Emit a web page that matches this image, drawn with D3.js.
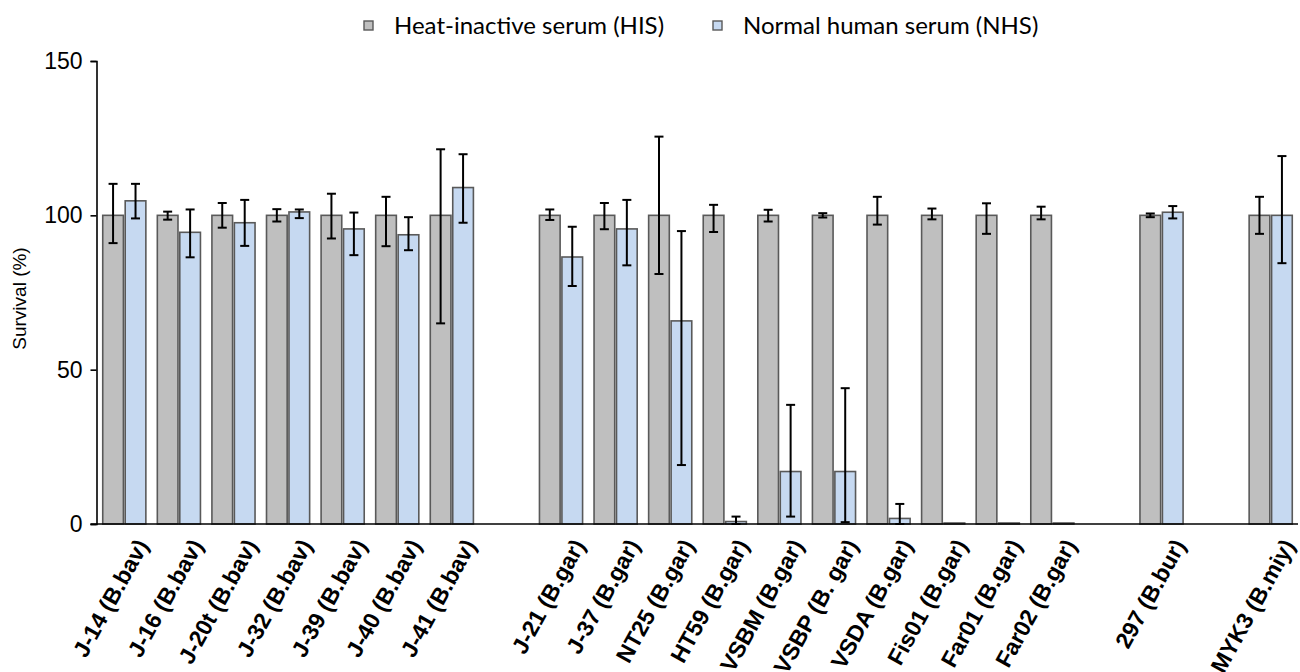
<!DOCTYPE html>
<html>
<head>
<meta charset="utf-8">
<script src="https://cdn.jsdelivr.net/npm/d3@7"></script>
<style>
  body { margin: 0; background: #fff; }
  svg { display: block; }
</style>
</head>
<body>
<svg id="chart"></svg>
<script>
// strain labels; "" = empty slot between species groups
const labels = ["J-14 (B.bav)", "J-16 (B.bav)", "J-20t (B.bav)", "J-32 (B.bav)", "J-39 (B.bav)",
  "J-40 (B.bav)", "J-41 (B.bav)", "", "J-21 (B.gar)", "J-37 (B.gar)", "NT25 (B.gar)",
  "HT59 (B.gar)", "VSBM (B.gar)", "VSBP (B. gar)", "VSDA (B.gar)", "Fis01 (B.gar)",
  "Far01 (B.gar)", "Far02 (B.gar)", "", "297 (B.bur)", "", "MYK3 (B.miy)"];

const series = ["Heat-inactive serum (HIS)", "Normal human serum (NHS)"];

// heat-inactive serum
const hisValues = [100, 100, 100, 100, 100, 100, 100, null, 100, 100, 100, 100, 100, 100, 100, 100, 100, 100, null, 100, null, 100];
const hisLow    = [91, 98.6, 96, 98, 92.5, 90, 65, null, 98.5, 95.5, 81, 94.6, 98, 99.3, 97, 98.7, 94, 98.7, null, 99.4, null, 94];
const hisHigh   = [110.2, 101.2, 104, 102, 107, 106, 121.4, null, 101.9, 104, 125.5, 103.4, 101.8, 100.7, 106, 102.2, 103.9, 102.8, null, 100.6, null, 106];

// normal human serum
const nhsValues = [104.7, 94.5, 97.6, 101.1, 95.6, 93.7, 109, null, 86.5, 95.6, 65.8, 0.8, 17, 17, 1.8, 0, 0, 0, null, 101, null, 100];
const nhsLow    = [99, 86.4, 90.1, 99.1, 87.1, 88.7, 97.6, null, 77.1, 83.8, 19.1, 0, 2.4, 0.6, 0, 0, 0, 0, null, 99, null, 84.5];
const nhsHigh   = [110.2, 101.9, 105, 101.9, 100.9, 99.4, 119.8, null, 96.3, 105, 94.9, 2.4, 38.6, 44, 6.5, 0, 0, 0, null, 103, null, 119.2];

const yTicks = [0, 50, 100, 150];

const width = 1300, height = 672;
const margin = { top: 61, right: 2, bottom: 148, left: 97 };

const svg = d3.select("#chart").attr("width", width).attr("height", height);

const x0 = d3.scaleBand()
  .domain(d3.range(labels.length))
  .range([margin.left, width - margin.right])
  .paddingInner(0.21)
  .paddingOuter(0.105);

const x1 = d3.scaleBand()
  .domain(series)
  .range([0, x0.bandwidth()])
  .paddingInner(0.08);

const y = d3.scaleLinear()
  .domain([0, 150])
  .range([height - margin.bottom, margin.top]);

const fills = { [series[0]]: "#bfbfbf", [series[1]]: "#c6d9f1" };
const stroke = "#595959";

const rows = [];
labels.forEach((lab, i) => {
  if (hisValues[i] != null) rows.push({ i, s: series[0], v: hisValues[i], lo: hisLow[i], hi: hisHigh[i] });
  if (nhsValues[i] != null) rows.push({ i, s: series[1], v: nhsValues[i], lo: nhsLow[i], hi: nhsHigh[i] });
});

// bars (zero values still leave a thin outline on the baseline)
svg.append("g")
  .selectAll("rect")
  .data(rows)
  .join("rect")
  .attr("x", d => x0(d.i) + x1(d.s))
  .attr("y", d => Math.min(y(d.v), y(0) - 1))
  .attr("width", x1.bandwidth())
  .attr("height", d => Math.max(y(0) - y(d.v), 1))
  .attr("fill", d => fills[d.s])
  .attr("stroke", stroke)
  .attr("stroke-width", 1.6);

// error bars
const capW = 4.5;
const err = svg.append("g")
  .attr("stroke", "#000")
  .attr("stroke-width", 2)
  .selectAll("g")
  .data(rows.filter(d => d.hi > d.lo))
  .join("g")
  .attr("transform", d => `translate(${x0(d.i) + x1(d.s) + x1.bandwidth() / 2},0)`);

err.append("line").attr("y1", d => y(d.lo)).attr("y2", d => y(d.hi));
err.append("line").attr("x1", -capW).attr("x2", capW).attr("y1", d => y(d.hi)).attr("y2", d => y(d.hi));
err.append("line").attr("x1", -capW).attr("x2", capW).attr("y1", d => y(d.lo)).attr("y2", d => y(d.lo));

// y axis
const yAxis = svg.append("g")
  .attr("transform", `translate(${margin.left - 0.5},0)`)
  .call(d3.axisLeft(y).tickValues(yTicks).tickSize(6).tickPadding(8));
yAxis.select(".domain").attr("stroke", "#000").attr("stroke-width", 1.6);
yAxis.selectAll(".tick line").attr("stroke", "#000").attr("stroke-width", 1.6);
yAxis.selectAll(".tick text")
  .attr("font-family", "Liberation Sans, Arial, sans-serif")
  .attr("font-size", 23)
  .attr("fill", "#000");

// x axis baseline
svg.append("line")
  .attr("x1", margin.left - 6.5)
  .attr("x2", width - margin.right)
  .attr("y1", y(0))
  .attr("y2", y(0))
  .attr("stroke", "#000")
  .attr("stroke-width", 1.6);

// x labels
svg.append("g")
  .selectAll("text")
  .data(labels.map((t, i) => ({ t, i })).filter(d => d.t))
  .join("text")
  .attr("transform", d => `translate(${x0(d.i) + x0.bandwidth() / 2 + 25},${y(0) + 21}) rotate(-61)`)
  .attr("text-anchor", "end")
  .attr("font-family", "Liberation Sans, Arial, sans-serif")
  .attr("font-weight", "bold")
  .attr("font-size", 23)
  .attr("fill", "#000")
  .text(d => d.t);

// y label
svg.append("text")
  .attr("transform", `translate(26,${(y(0) + y(150)) / 2 + 6}) rotate(-90)`)
  .attr("text-anchor", "middle")
  .attr("font-family", "Liberation Sans, Arial, sans-serif")
  .attr("font-size", 19)
  .attr("fill", "#000")
  .text("Survival (%)");

// legend
const legendX = [364, 713];
const legend = svg.append("g")
  .selectAll("g")
  .data(series)
  .join("g")
  .attr("transform", (d, i) => `translate(${legendX[i]},21)`);

legend.append("rect")
  .attr("width", 9).attr("height", 9)
  .attr("fill", d => fills[d])
  .attr("stroke", stroke)
  .attr("stroke-width", 1.4);

legend.append("text")
  .attr("x", 30)
  .attr("y", 13)
  .attr("font-family", "Lato, sans-serif")
  .attr("font-size", 24)
  .attr("fill", "#000")
  .text(d => d);
</script>
</body>
</html>
